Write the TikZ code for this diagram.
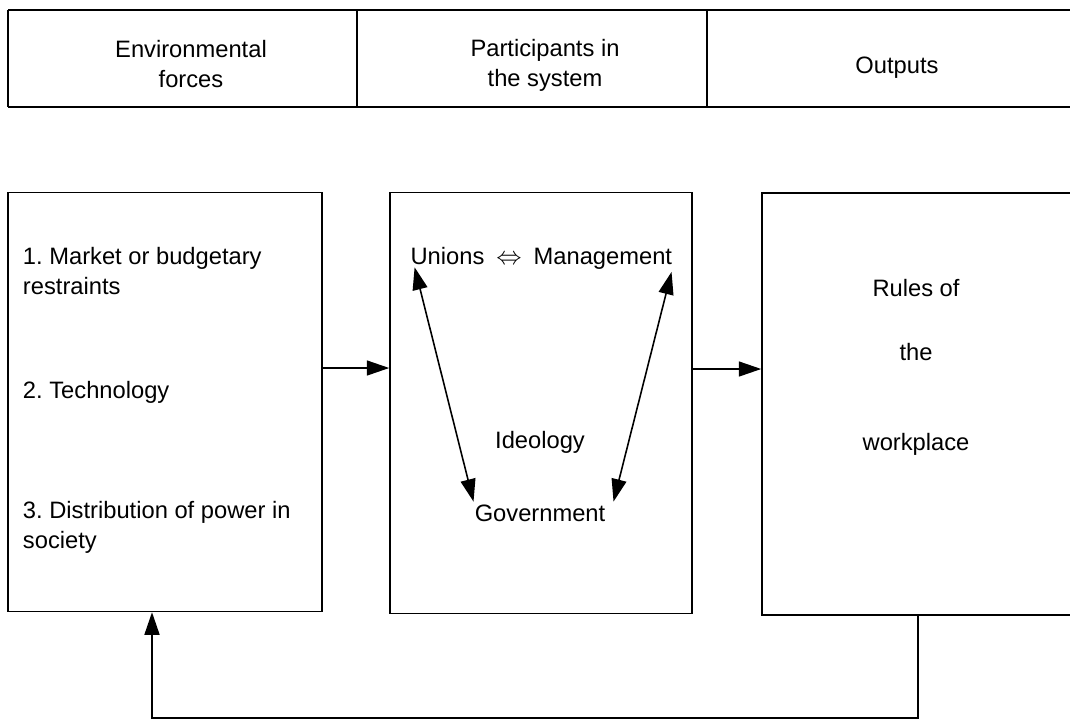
\documentclass[tikz,border=0pt]{standalone}
\usepackage{fontspec}
\setmainfont{Liberation Sans}
\usetikzlibrary{arrows.meta,positioning}
\frenchspacing

\begin{document}
\begin{tikzpicture}[x=0.02cm,y=-0.02cm,>={Triangle[length=4.5mm,width=3mm]},
    box/.style={draw,line width=0.9pt,inner sep=0pt},
    flow/.style={->,line width=0.9pt},
    txt/.style={font=\fontsize{13.5}{17}\selectfont,inner sep=1.5pt}]
        % =========================================================
        % SCALE: 1 unit = 1 px of the 1070 x 723 page
        % =========================================================
        \clip (0,0) rectangle (1070,723);

        % ---------------------------------------------------------
        % Header band
        % ---------------------------------------------------------
        \draw[line width=1.2pt] (8,10) -- (1070,10);
        \draw[line width=1.2pt] (8,107) -- (1070,107);
        \draw[line width=0.9pt] (8,10) -- (8,107);
        \draw[line width=0.9pt] (357,10) -- (357,107);
        \draw[line width=0.9pt] (707,10) -- (707,107);

        \node[txt,align=center] (hforces) at (191,64) {Environmental\\forces};
        \node[txt,align=center] (hpart) at (545,65) {Participants in\\the system};
        \node[txt] (hout) at (897,68) {Outputs};

        % ---------------------------------------------------------
        % Three boxes
        % ---------------------------------------------------------
        \node[box,minimum width=6.28cm,minimum height=8.38cm] (forces) at (165,402) {};
        \node[box,minimum width=6.04cm,minimum height=8.42cm] (participants) at (541,403) {};
        \node[box,minimum width=6.96cm,minimum height=8.44cm] (outputs) at (936,404) {};

        % Environmental forces
        \node[txt,align=left,anchor=west] (market) at (20,271) {1. Market or budgetary\\restraints};
        \node[txt,anchor=west] (technology) at (20,392) {2. Technology};
        \node[txt,align=left,anchor=west] (power) at (20,527) {3. Distribution of power in\\society};

        % Participants
        \node[txt,anchor=base] (relation) at (509,264) {$\Leftrightarrow$};
        \node[txt,base left=0.12cm of relation] (unions) {Unions};
        \node[txt,base right=0.12cm of relation] (management) {Management};
        \node[txt] (ideology) at (540,442) {Ideology};
        \node[txt] (government) at (540,513) {Government};

        \draw[<->,line width=0.9pt] ([xshift=4pt]unions.south west) -- ([xshift=1pt]government.north west);
        \draw[<->,line width=0.9pt] ([xshift=-2pt]management.south east) -- ([xshift=3pt]government.north east);

        % Outputs
        \node[txt] (rules) at (916,288) {Rules of};
        \node[txt] (the) at (916,352) {the};
        \node[txt] (workplace) at (916,444) {workplace};

        % ---------------------------------------------------------
        % Connectors
        % ---------------------------------------------------------
        \draw[flow] ([yshift=0.68cm]forces.east) -- ([yshift=0.68cm]forces.east -| participants.west);
        \draw[flow] ([yshift=0.68cm]participants.east) -- ([yshift=0.68cm]participants.east -| outputs.west);

        % Feedback loop
        \coordinate (fbright) at (918,718);
        \coordinate (fbleft) at (152,718);
        \draw[flow] (fbright |- outputs.south) -- (fbright) -- (fbleft) -- (fbleft |- forces.south);

    \end{tikzpicture}
\end{document}
